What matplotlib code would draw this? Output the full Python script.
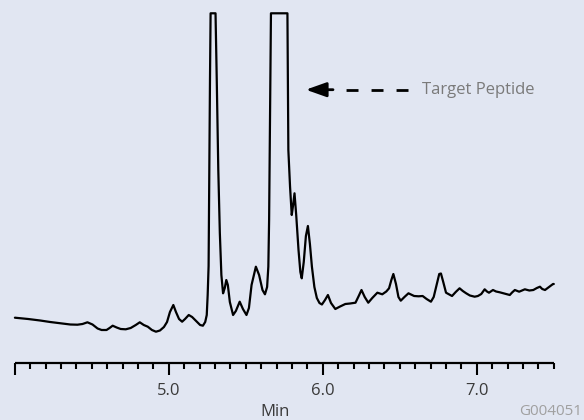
import matplotlib
matplotlib.use("Agg")
import matplotlib.pyplot as plt
from matplotlib.ticker import FixedLocator

# ---- data (retention time in min, detector signal in arbitrary units) ----
time_min = [
    4.000, 4.086, 4.164, 4.229, 4.295, 4.360, 4.406, 4.439, 4.471, 4.504,
    4.537, 4.563, 4.595, 4.615, 4.635, 4.661, 4.687, 4.720, 4.752, 4.785,
    4.811, 4.837, 4.863, 4.890, 4.916, 4.942, 4.968, 4.988, 5.007, 5.029,
    5.046, 5.066, 5.086, 5.105, 5.129, 5.151, 5.177, 5.203, 5.221, 5.236,
    5.246, 5.252, 5.258, 5.262, 5.267, 5.271, 5.303, 5.311, 5.321, 5.331,
    5.341, 5.352, 5.363, 5.373, 5.383, 5.396, 5.417, 5.435, 5.460, 5.481,
    5.504, 5.520, 5.537, 5.565, 5.586, 5.608, 5.624, 5.638, 5.646, 5.651,
    5.656, 5.663, 5.770, 5.774, 5.776, 5.787, 5.798, 5.807, 5.816, 5.827,
    5.842, 5.854, 5.863, 5.876, 5.890, 5.903, 5.916, 5.929, 5.945, 5.961,
    5.978, 5.994, 6.014, 6.033, 6.053, 6.081, 6.112, 6.146, 6.177, 6.212,
    6.233, 6.251, 6.272, 6.295, 6.321, 6.354, 6.386, 6.412, 6.430, 6.445,
    6.458, 6.475, 6.491, 6.506, 6.530, 6.556, 6.593, 6.622, 6.648, 6.674,
    6.702, 6.720, 6.739, 6.756, 6.767, 6.782, 6.800, 6.839, 6.863, 6.888,
    6.909, 6.931, 6.955, 6.986, 7.007, 7.029, 7.051, 7.066, 7.079, 7.105,
    7.125, 7.149, 7.177, 7.214, 7.229, 7.247, 7.275, 7.312, 7.341, 7.367,
    7.390, 7.410, 7.425, 7.443, 7.465, 7.486, 7.495, 7.500,
]
signal = [
    22.3, 21.0, 19.5, 18.0, 16.7, 15.5, 15.3, 16.0, 17.7, 15.5,
    11.5, 10.0, 10.0, 12.0, 14.3, 12.5, 11.0, 10.7, 12.0, 15.0,
    17.7, 15.0, 13.3, 10.0, 8.3, 9.5, 13.0, 18.0, 28.0, 35.0,
    28.0, 21.0, 18.3, 21.0, 25.0, 23.0, 19.0, 15.0, 14.3, 18.0,
    25.0, 45.0, 74.0, 160.0, 260.0, 326.7, 326.7, 260.0, 170.0, 107.0,
    65.0, 46.7, 52.0, 60.0, 55.0, 38.0, 25.0, 29.0, 38.3, 31.0,
    25.0, 32.0, 55.0, 73.3, 65.0, 50.0, 45.7, 53.0, 73.3, 120.0,
    210.0, 326.7, 326.7, 240.0, 190.0, 153.3, 125.0, 135.0, 146.7, 125.0,
    90.0, 68.0, 61.7, 78.0, 104.0, 114.0, 96.0, 73.3, 53.0, 42.0,
    37.0, 35.5, 40.0, 45.0, 37.0, 31.0, 33.5, 36.0, 36.5, 37.3,
    44.0, 50.0, 43.0, 37.3, 42.0, 47.3, 45.7, 48.5, 51.7, 60.0,
    66.0, 56.0, 43.0, 39.3, 43.0, 46.7, 44.0, 43.7, 44.0, 41.0,
    38.3, 43.0, 55.0, 66.0, 66.5, 58.0, 47.3, 44.0, 48.0, 51.7,
    49.0, 46.7, 44.5, 43.3, 44.0, 46.0, 50.7, 48.5, 47.3, 50.0,
    48.5, 47.7, 46.5, 45.0, 47.5, 50.0, 48.3, 50.7, 49.5, 50.0,
    52.0, 53.3, 51.0, 50.0, 52.5, 55.0, 56.0, 56.0,
]
major_ticks = [4.0, 5.0, 6.0, 7.0]
major_labels = ["", "5.0", "6.0", "7.0"]
minor_ticks = [round(4.0 + 0.1 * i, 1) for i in range(36)]
x_label = "Min"
annotation_text = "Target Peptide"
figure_code = "G004051"

# ---- style ----
BG = "#E1E6F2"
plt.rcParams["font.family"] = ["Open Sans", "DejaVu Sans"]
plt.rcParams["lines.scale_dashes"] = False

fig = plt.figure(figsize=(5.84, 4.20), dpi=100, facecolor=BG)
ax = fig.add_axes([14.9 / 584, 0.135, (553.8 - 14.9) / 584, 0.8412])
ax.set_facecolor(BG)

ax.plot(time_min, signal, color="black", lw=1.6, clip_on=False,
        solid_joinstyle="round", solid_capstyle="round")

ax.set_xlim(4.0, 7.5)
ax.set_ylim(-23.3, 330)

for s in ["left", "right", "top"]:
    ax.spines[s].set_visible(False)
ax.spines["bottom"].set_linewidth(1.6)
ax.spines["bottom"].set_color("black")
ax.spines["bottom"].set_capstyle("butt")

ax.set_yticks([])
ax.xaxis.set_major_locator(FixedLocator(major_ticks))
ax.set_xticklabels(major_labels)
ax.xaxis.set_minor_locator(FixedLocator([t for t in minor_ticks if t not in major_ticks]))
ax.tick_params(axis="x", which="major", direction="out", length=8.6, width=1.5,
               color="black", pad=5.6, labelsize=12, labelcolor="#3a3a3a")
ax.tick_params(axis="x", which="minor", direction="out", length=4.3, width=1.5,
               color="black")

# annotation: dashed arrow pointing at the target peptide peak
def px_to_t(px):
    return 4.0 + (px - 14.9) / 153.0

arrow_y = 250.3
ax.plot([px_to_t(406), px_to_t(331)], [arrow_y, arrow_y], color="black", lw=2.0,
        ls=(0, (8.6, 9.4)), solid_capstyle="butt", dash_capstyle="butt", clip_on=False)
ax.annotate("", xy=(px_to_t(304), arrow_y), xytext=(px_to_t(331), arrow_y),
            arrowprops=dict(arrowstyle="-|>,head_length=0.62,head_width=0.22",
                            color="black", lw=2.0, shrinkA=0, shrinkB=0,
                            mutation_scale=20))
ax.text(px_to_t(419.3), arrow_y, annotation_text, fontsize=12, color="#7a7a7a",
        ha="left", va="center")

fig.text(274.7 / 584, 4.5 / 420, x_label, fontsize=12, color="#3a3a3a",
         ha="center", va="baseline")
fig.text(582.5 / 584, 0.8 / 420, figure_code, fontsize=11, color="#a0a0a0",
         ha="right", va="bottom")

fig.savefig("out.png", dpi=100, facecolor=BG)
